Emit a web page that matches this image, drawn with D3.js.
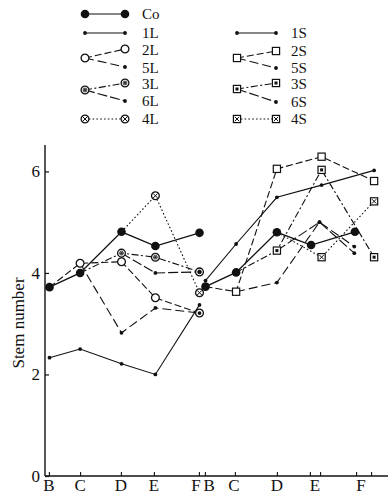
<!DOCTYPE html>
<html><head><meta charset="utf-8">
<script src="https://cdn.jsdelivr.net/npm/d3@7"></script>
<style>body{margin:0;background:#fff}svg{display:block}text{font-family:"Liberation Serif","DejaVu Serif",serif;fill:#111}</style>
</head><body>
<svg id="c" width="388" height="495"></svg>
<script>
// ---- data ----
const stageLabels = ['B','C','D','E','F','B','C','D','E','F'];
const labelDays   = [1.3, 11.7, 25.3, 36.3, 50.3, 54.7, 63, 77.3, 90, 105.3];
const tickDays    = [1.3, 11.7, 25.3, 36.3, 51.3, 53.3, 63.3, 77.3, 88.3, 91.7, 103.7, 108.7];
const yTicks      = [0, 2, 4, 6];

const daysL   = [1.5, 11.7, 25.5, 36.8, 51.5];
const daysSCo = [53.5, 63.7, 77.3, 88.7, 103.3];
const daysS   = [53.5, 63.7, 77.3, 92.2, 109.7];
const daysS56 = [53.5, 63.7, 77.3, 91.5, 103.1];

const coL  = [3.72, 4.0, 4.81, 4.53, 4.79];
const l1   = [2.33, 2.5, 2.21, 2.0, 3.37];
const l2   = [3.72, 4.19, 4.22, 3.51, 3.21];
const l5   = [null, 4.19, 2.82, 3.31, 3.21];
const l3   = [null, 4.0, 4.39, 4.31, 4.02];
const l6   = [null, null, 4.39, 4.0, 4.02];
const l4   = [null, null, 4.81, 5.52, 3.61];

const coS  = [3.73, 4.01, 4.80, 4.55, 4.81];
const s1   = [3.85, 4.57, 5.49, 5.73, 6.02];
const s2   = [3.73, 3.63, 6.05, 6.29, 5.81];
const s5   = [null, 3.63, 3.81, 5.0, 4.52];
const s3   = [null, 4.01, 4.44, 6.03, 4.31];
const s6   = [null, null, 4.44, 5.0, 4.39];
const s4   = [null, null, 4.80, 4.31, 5.41];

const legendL = ['Co','1L','2L','5L','3L','6L','4L'];
const legendS = ['1S','2S','5S','3S','6S','4S'];

// ---- styles ----
const dashes = {co:null, t1:null, t2:'7,3', t5:'9,4', t3:'7,2.5,2,2.5', t6:'10,3', t4:'1.6,2.2'};

const series = [
  {v:coL, d:daysL,   m:'bigdot', s:'co'},
  {v:l1,  d:daysL,   m:'dot',    s:'t1'},
  {v:l2,  d:daysL,   m:'ocircle',s:'t2', branch:true},
  {v:l5,  d:daysL,   m:'dot',    s:'t5', branch:true},
  {v:l3,  d:daysL,   m:'cdot',   s:'t3', branch:true},
  {v:l6,  d:daysL,   m:'dot',    s:'t6', branch:true},
  {v:l4,  d:daysL,   m:'cx',     s:'t4', branch:true},
  {v:coS, d:daysSCo, m:'bigdot', s:'co'},
  {v:s1,  d:daysS,   m:'dot',    s:'t1'},
  {v:s2,  d:daysS,   m:'osquare',s:'t2', branch:true},
  {v:s5,  d:daysS56, m:'dot',    s:'t5', branch:true},
  {v:s3,  d:daysS,   m:'sqdot',  s:'t3', branch:true},
  {v:s6,  d:daysS56, m:'dot',    s:'t6', branch:true},
  {v:s4,  d:daysS,   m:'sqx',    s:'t4', branch:true}
];

const svg = d3.select('#c');
const x = d3.scaleLinear().domain([0, 115]).range([45, 390]);
const y = d3.scaleLinear().domain([0, 6.52]).range([476, 145]);

function marker(g, type, cx, cy) {
  const k = g.append('g').attr('transform', `translate(${cx},${cy})`);
  const st = '#111';
  if (type === 'bigdot') k.append('circle').attr('r', 4.3).attr('fill', st);
  else if (type === 'dot') k.append('circle').attr('r', 1.9).attr('fill', st);
  else if (type === 'ocircle') k.append('circle').attr('r', 3.9).attr('fill', '#fff').attr('stroke', st).attr('stroke-width', 1.3);
  else if (type === 'cdot') {
    k.append('circle').attr('r', 3.9).attr('fill', '#fff').attr('stroke', st).attr('stroke-width', 1.3);
    k.append('circle').attr('r', 2).attr('fill', '#888').attr('stroke', st).attr('stroke-width', 0.6);
    k.append('circle').attr('r', 0.9).attr('fill', st);
  } else if (type === 'cx') {
    k.append('circle').attr('r', 3.9).attr('fill', '#fff').attr('stroke', st).attr('stroke-width', 1.3);
    k.append('path').attr('d', 'M-2.3,-2.3L2.3,2.3M-2.3,2.3L2.3,-2.3').attr('stroke', st).attr('stroke-width', 1);
  } else if (type === 'osquare') {
    k.append('rect').attr('x', -3.6).attr('y', -3.6).attr('width', 7.2).attr('height', 7.2).attr('fill', '#fff').attr('stroke', st).attr('stroke-width', 1.2);
  } else if (type === 'sqdot') {
    k.append('rect').attr('x', -3.6).attr('y', -3.6).attr('width', 7.2).attr('height', 7.2).attr('fill', '#fff').attr('stroke', st).attr('stroke-width', 1.2);
    k.append('rect').attr('x', -1.5).attr('y', -1.5).attr('width', 3).attr('height', 3).attr('fill', st);
  } else if (type === 'sqx') {
    k.append('rect').attr('x', -3.6).attr('y', -3.6).attr('width', 7.2).attr('height', 7.2).attr('fill', '#fff').attr('stroke', st).attr('stroke-width', 1.2);
    k.append('path').attr('d', 'M-2.2,-2.2L2.2,2.2M-2.2,2.2L2.2,-2.2').attr('stroke', st).attr('stroke-width', 1);
  }
}

// ---- axes ----
const yAxis = d3.axisLeft(y).tickValues(yTicks).tickSize(-4).tickPadding(5).tickFormat(d3.format('d'));
const gy = svg.append('g').attr('transform', 'translate(45,0)').call(yAxis);
gy.select('.domain').attr('stroke', '#111').attr('stroke-width', 1.4).attr('d', `M0,${y(0)}V${y.range()[1]}`);
gy.selectAll('.tick line').attr('stroke', '#111').attr('stroke-width', 1.2);
gy.selectAll('.tick text').style('font-size', '17px').style('font-family', '"Liberation Serif",serif').attr('fill', '#111');

const xAxis = d3.axisBottom(x).tickValues(tickDays).tickSize(-4).tickFormat('');
const gx = svg.append('g').attr('transform', `translate(0,${y(0)})`).call(xAxis);
gx.select('.domain').attr('stroke', '#111').attr('stroke-width', 1.4).attr('d', `M45,0H388`);
gx.selectAll('.tick line').attr('stroke', '#111').attr('stroke-width', 1.1);

svg.append('g').selectAll('text').data(stageLabels).join('text')
  .attr('x', (d, i) => x(labelDays[i])).attr('y', 491)
  .attr('text-anchor', 'middle').style('font-size', '17px').text(d => d);

svg.append('text').attr('transform', `translate(24,323) rotate(-90)`)
  .attr('text-anchor', 'middle').style('font-size', '17px').text('Stem number');

// ---- lines ----
const plot = svg.append('g');
series.forEach(s => {
  const pts = s.v.map((v, i) => v == null ? null : [x(s.d[i]), y(v)]).filter(p => p);
  plot.append('path').attr('d', d3.line()(pts)).attr('fill', 'none')
    .attr('stroke', '#111').attr('stroke-width', s.s === 'co' ? 1.3 : 1.1)
    .attr('stroke-dasharray', dashes[s.s]);
});
series.forEach(s => {
  let first = true;
  s.v.forEach((v, i) => {
    if (v == null) return;
    if (first && s.branch) { first = false; return; }
    first = false;
    marker(plot, s.m, x(s.d[i]), y(v));
  });
});

// ---- legend ----
const lg = svg.append('g');
function legLine(x1, y1, x2, y2, st) {
  lg.append('line').attr('x1', x1).attr('y1', y1).attr('x2', x2).attr('y2', y2)
    .attr('stroke', '#111').attr('stroke-width', 1.1).attr('stroke-dasharray', dashes[st]);
}
function legText(tx, ty, t) {
  lg.append('text').attr('x', tx).attr('y', ty + 5).style('font-size', '15px').text(t);
}
// left column
const Lx1 = 85, Lx2 = 125, Ltx = 142;
legLine(Lx1, 14, Lx2, 14, 'co'); marker(lg, 'bigdot', Lx1, 14); marker(lg, 'bigdot', Lx2, 14); legText(Ltx, 14, legendL[0]);
legLine(Lx1, 33, Lx2, 33, 't1'); marker(lg, 'dot', Lx1, 33); marker(lg, 'dot', Lx2, 33); legText(Ltx, 33, legendL[1]);
legLine(Lx1, 58, Lx2, 49, 't2'); legLine(Lx1, 58, Lx2, 67, 't5');
marker(lg, 'ocircle', Lx1, 58); marker(lg, 'ocircle', Lx2, 49); marker(lg, 'dot', Lx2, 67);
legText(Ltx, 50, legendL[2]); legText(Ltx, 68, legendL[3]);
legLine(Lx1, 90, Lx2, 83, 't3'); legLine(Lx1, 90, Lx2, 101, 't6');
marker(lg, 'cdot', Lx1, 90); marker(lg, 'cdot', Lx2, 83); marker(lg, 'dot', Lx2, 101);
legText(Ltx, 84, legendL[4]); legText(Ltx, 101, legendL[5]);
legLine(Lx1, 119, Lx2, 119, 't4'); marker(lg, 'cx', Lx1, 119); marker(lg, 'cx', Lx2, 119); legText(Ltx, 119, legendL[6]);
// right column
const Rx1 = 237, Rx2 = 276, Rtx = 291;
legLine(Rx1, 33, Rx2, 33, 't1'); marker(lg, 'dot', Rx1, 33); marker(lg, 'dot', Rx2, 33); legText(Rtx, 33, legendS[0]);
legLine(Rx1, 58, Rx2, 51, 't2'); legLine(Rx1, 58, Rx2, 68, 't5');
marker(lg, 'osquare', Rx1, 58); marker(lg, 'osquare', Rx2, 51); marker(lg, 'dot', Rx2, 68);
legText(Rtx, 51, legendS[1]); legText(Rtx, 68, legendS[2]);
legLine(Rx1, 89, Rx2, 83, 't3'); legLine(Rx1, 89, Rx2, 102, 't6');
marker(lg, 'sqdot', Rx1, 89); marker(lg, 'sqdot', Rx2, 83); marker(lg, 'dot', Rx2, 102);
legText(Rtx, 84, legendS[3]); legText(Rtx, 102, legendS[4]);
legLine(Rx1, 119, Rx2, 119, 't4'); marker(lg, 'sqx', Rx1, 119); marker(lg, 'sqx', Rx2, 119); legText(Rtx, 119, legendS[5]);
</script>
</body></html>
